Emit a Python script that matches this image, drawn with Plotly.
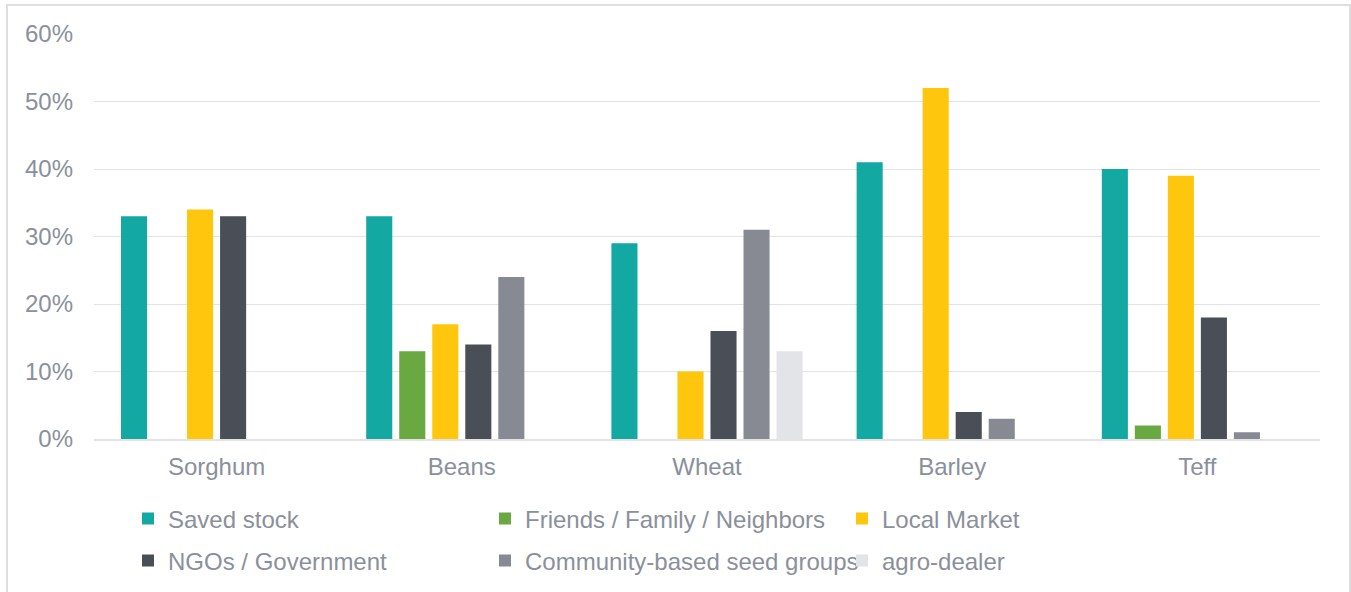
import plotly.graph_objects as go

categories = ["Sorghum", "Beans", "Wheat", "Barley", "Teff"]
saved_stock = [33, 33, 29, 41, 40]
friends_family = [None, 13, None, None, 2]
local_market = [34, 17, 10, 52, 39]
ngos_government = [33, 14, 16, 4, 18]
community_groups = [None, 24, 31, 3, 1]
agro_dealer = [None, None, 13, None, None]

series = [
    ("Saved stock", saved_stock, "#14a8a3", "legend"),
    ("Friends / Family / Neighbors", friends_family, "#6aa842", "legend"),
    ("Local Market", local_market, "#fec60c", "legend"),
    ("NGOs / Government", ngos_government, "#4a4e57", "legend2"),
    ("Community-based seed groups", community_groups, "#878a92", "legend2"),
    ("agro-dealer", agro_dealer, "#e3e4e8", "legend2"),
]

FONT = "Liberation Sans, Arial, sans-serif"
TXT = "#8a909b"

fig = go.Figure()
for name, vals, color, lg in series:
    fig.add_trace(go.Bar(
        x=categories, y=[None if v is None else v / 100 for v in vals],
        name=name, marker=dict(color=color, line=dict(width=0)),
        legend=lg,
    ))

W, H = 1351, 592
L, R, T, B = 94, 31, 34, 153
pw, ph = W - L - R, H - T - B

def px_x(x):
    return (x - L) / pw

def px_y(y):
    return (H - B - y) / ph

leg_common = dict(
    orientation="h", xanchor="left", yanchor="middle",
    xref="container", yref="container",
    font=dict(family=FONT, size=24, color=TXT),
    entrywidth=312, entrywidthmode="pixels", bgcolor="rgba(0,0,0,0)",
    itemclick=False, itemdoubleclick=False,
)

fig.update_layout(
    width=W, height=H,
    margin=dict(l=L, r=R, t=T, b=B, autoexpand=False),
    paper_bgcolor="white", plot_bgcolor="white",
    barmode="group", bargap=0.192, bargroupgap=0.21,
    font=dict(family=FONT, size=24, color=TXT),
    showlegend=True,
    legend=dict(x=128 / W, y=1 - 519 / H, **leg_common),
    legend2=dict(x=128 / W, y=1 - 561 / H, **leg_common),
    xaxis=dict(
        showgrid=False, showline=True, linecolor="#e3e3e3", linewidth=2,
        tickfont=dict(family=FONT, size=24, color=TXT), ticks="",
        ticklabelstandoff=5, automargin=False,
    ),
    yaxis=dict(
        range=[0, 0.6], dtick=0.1, tickformat=".0%",
        showgrid=True, gridcolor="#e3e3e3", gridwidth=1,
        zeroline=False, showline=False, ticks="",
        tickfont=dict(family=FONT, size=24, color=TXT),
        ticklabelstandoff=20, automargin=False,
    ),
    shapes=[dict(
        type="rect", xref="paper", yref="paper",
        x0=px_x(7), x1=px_x(1350), y0=px_y(600), y1=px_y(5),
        line=dict(color="#dedede", width=2), fillcolor="rgba(0,0,0,0)", layer="below",
    )],
)

fig.write_html("out.html")
